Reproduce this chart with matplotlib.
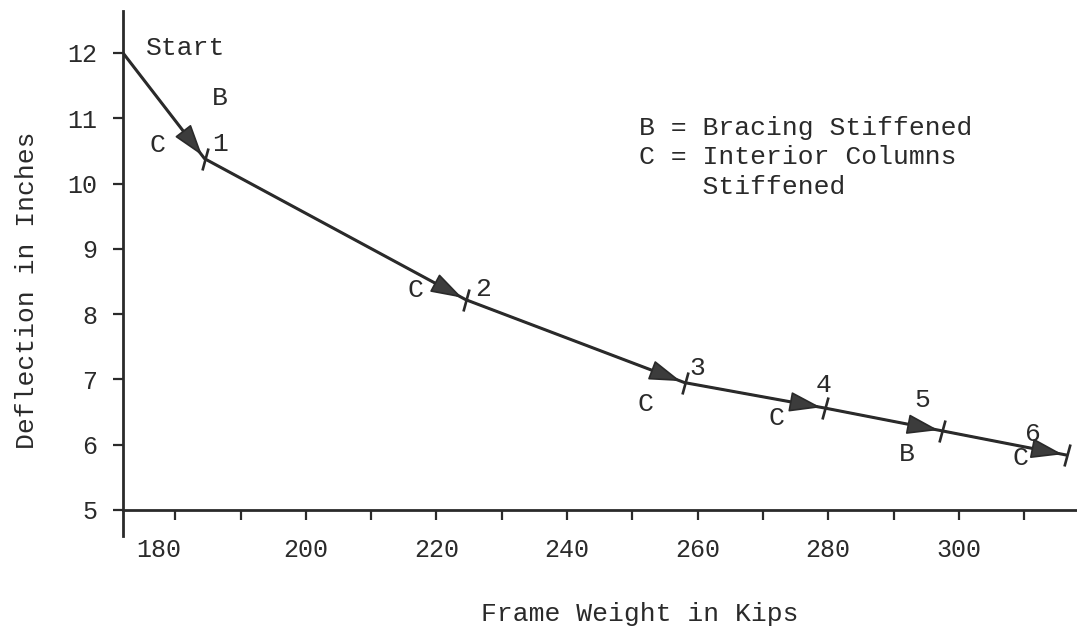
import matplotlib
matplotlib.use("Agg")
import matplotlib.pyplot as plt
from matplotlib.markers import MarkerStyle
from matplotlib.transforms import Affine2D, ScaledTranslation

# ---- data ----
weights = [172.0, 184.5, 224.5, 258.0, 279.5, 297.5, 316.5]      # frame weight (kips)
deflections = [12.0, 10.38, 8.22, 6.95, 6.56, 6.21, 5.84]         # deflection (in)
step_labels = ["1", "2", "3", "4", "5", "6"]
step_types = ["C", "C", "C", "C", "B", "C"]
x_major = [180, 200, 220, 240, 260, 280, 300]
x_minor = [190, 210, 230, 250, 270, 290, 310]
y_ticks = [5, 6, 7, 8, 9, 10, 11, 12]

INK = "#2a2a2a"
FONT = "Liberation Mono"
plt.rcParams["font.family"] = [FONT, "DejaVu Sans Mono"]

fig = plt.figure(figsize=(10.77, 6.33), dpi=100)
ax = fig.add_axes([0.1142, 0.1532, 0.8858, 0.8302])
ax.set_xlim(172.0, 318.1)
ax.set_ylim(4.6, 12.65)

# main line
ax.plot(weights, deflections, color=INK, lw=2.2, solid_capstyle="round", zorder=3)

# arrowheads on each segment, pointing toward each step point
for i in range(1, len(weights)):
    ax.annotate("", xy=(weights[i], deflections[i]),
                xytext=(weights[i - 1], deflections[i - 1]),
                arrowprops=dict(arrowstyle="-|>,head_length=1.0,head_width=0.32",
                                mutation_scale=20, lw=1.2, color=INK,
                                fc="#3c3c3c", shrinkA=0, shrinkB=3),
                zorder=4)

# slash marks at step points
slash = MarkerStyle("|", transform=Affine2D().rotate_deg(-18))
ax.plot(weights[1:], deflections[1:], ls="none", marker=slash, ms=16,
        mew=1.9, mec=INK, zorder=5)

# annotations
tkw = dict(color=INK, fontsize=19, ha="center", va="center", family=[FONT])
ax.text(175.5, 12.08, "Start", **{**tkw, "ha": "left"})
ax.text(186.9, 11.31, "B", **tkw)
ax.text(177.2, 10.59, step_types[0], **tkw)
ax.text(186.9, 10.60, step_labels[0], **tkw)
ax.text(216.8, 8.37, step_types[1], **tkw)
ax.text(227.1, 8.39, step_labels[1], **tkw)
ax.text(252.0, 6.63, step_types[2], **tkw)
ax.text(259.9, 7.18, step_labels[2], **tkw)
ax.text(272.0, 6.41, step_types[3], **tkw)
ax.text(279.3, 6.91, step_labels[3], **tkw)
ax.text(292.0, 5.86, step_types[4], **tkw)
ax.text(294.4, 6.69, step_labels[4], **tkw)
ax.text(309.4, 5.80, step_types[5], **tkw)
ax.text(311.4, 6.17, step_labels[5], **tkw)

# key
ax.text(251.0, 10.40, "B = Bracing Stiffened\nC = Interior Columns\n    Stiffened",
        color=INK, fontsize=19, ha="left", va="center", linespacing=1.3,
        family=[FONT])

# axes styling
for s in ("top", "right"):
    ax.spines[s].set_visible(False)
ax.spines["bottom"].set_position(("data", 5))
ax.spines["left"].set_linewidth(2.0)
ax.spines["bottom"].set_linewidth(2.0)
ax.spines["left"].set_color(INK)
ax.spines["bottom"].set_color(INK)

ax.set_xticks(x_major)
ax.set_xticks(x_minor, minor=True)
ax.set_yticks(y_ticks)
ax.tick_params(axis="x", which="both", direction="out", length=7, width=1.6,
               color=INK, labelsize=18, labelcolor=INK, pad=13)
ax.tick_params(axis="y", direction="out", length=7.5, width=1.6,
               color=INK, labelsize=18, labelcolor=INK, pad=11)
for lab in ax.get_xticklabels() + ax.get_yticklabels():
    lab.set_family(FONT)

# first x label sits left of its tick in the original
fig.canvas.draw()
first = ax.get_xticklabels()[0]
first.set_transform(first.get_transform() +
                    ScaledTranslation(-12 / 72, 0, fig.dpi_scale_trans))

fig.text(640 / 1077, 1 - 614 / 633, "Frame Weight in Kips", color=INK,
         fontsize=19, ha="center", va="center", family=[FONT])
fig.text(27 / 1077, 1 - 290 / 633, "Deflection in Inches", color=INK,
         fontsize=19, ha="center", va="center", rotation=90, family=[FONT])

fig.savefig("out.png", dpi=100)
